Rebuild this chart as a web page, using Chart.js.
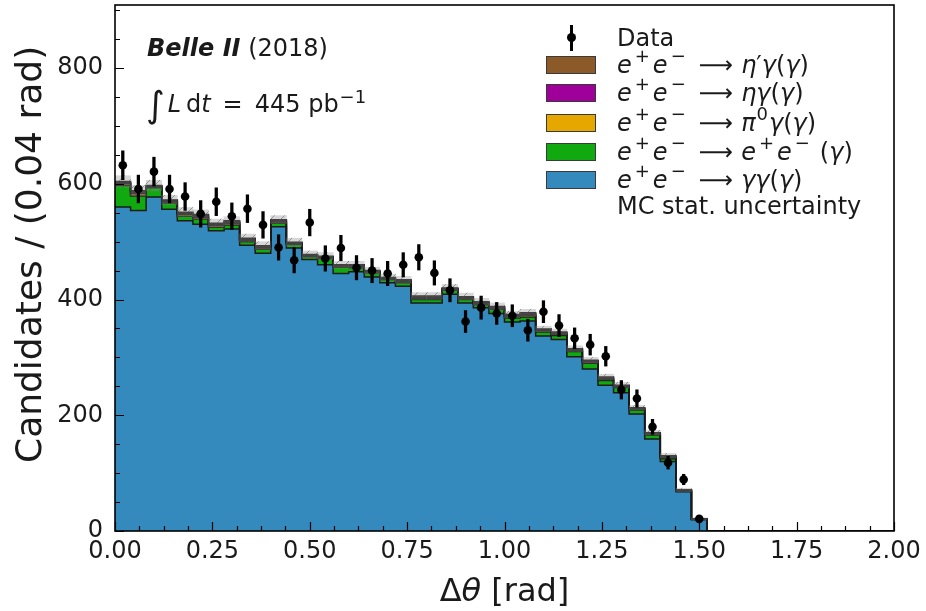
<!DOCTYPE html>
<html lang="en">
<head>
<meta charset="UTF-8">
<title>Delta theta - Belle II (2018)</title>
<script src="https://cdn.jsdelivr.net/npm/chart.js"></script>
<style>
    html, body { margin: 0; padding: 0; background: #fff; }
    body { font-family: 'DejaVu Sans', sans-serif; color: #1a1a1a; }
    #wrap { position: relative; width: 926px; height: 611px; }
    #wrap canvas { position: absolute; left: 0; top: 0; }
    .txt { position: absolute; font-size: 24px; line-height: 1; white-space: nowrap; }
    .row { position: absolute; left: 546px; height: 28px; display: flex; align-items: center;
           font-size: 24px; line-height: 1; white-space: nowrap; }
    .swatch { width: 48px; height: 16px; border: 1px solid #3a3a3a; margin-right: 21px; box-sizing: content-box; }
    .marker { position: relative; width: 50px; height: 28px; margin-right: 21px; }
    .marker .bar { position: absolute; left: 24px; top: 1px; width: 3px; height: 26px; background: #000; }
    .marker .dot { position: absolute; left: 21px; top: 9px; width: 9px; height: 9px; border-radius: 50%; background: #000; }
    sup { font-size: 0.75em; vertical-align: 0; position: relative; top: -0.5em; margin: 0 3px 0 3px; }
    .arrow { margin: 0 8px 0 10px; }
    .eq { margin: 0 12px; }
    #ytitle { position: absolute; font-size: 36px; line-height: 1; white-space: nowrap;
              transform-origin: 0 0; transform: rotate(-90deg); }
</style>
</head>
<body>
<div id="wrap">
    <canvas id="chart" width="926" height="611"></canvas>

    <!-- annotation -->
    <div class="txt" style="left:147px; top:36px;"><b><i>Belle II</i></b> (2018)</div>
    <div class="txt" style="left:146px; top:82px;"><span style="font-size:36px; position:relative; top:5px; margin-right:3px;">∫</span><i>L</i>&#8201;d<i>t</i><span class="eq">=</span>445 pb<sup style="margin:0 0 0 1px">−1</sup></div>

    <!-- legend -->
    <div class="row" style="top:24px;"><div class="marker"><div class="bar"></div><div class="dot"></div></div>Data</div>
    <div class="row" style="top:51px;"><div class="swatch" style="background:#8C5A28"></div><i>e</i><sup>+</sup><i>e</i><sup>−</sup><span class="arrow">⟶</span><i>η</i>′<i>γ</i>(<i>γ</i>)</div>
    <div class="row" style="top:79px;"><div class="swatch" style="background:#A0009A"></div><i>e</i><sup>+</sup><i>e</i><sup>−</sup><span class="arrow">⟶</span><i>ηγ</i>(<i>γ</i>)</div>
    <div class="row" style="top:109px;"><div class="swatch" style="background:#E6A800"></div><i>e</i><sup>+</sup><i>e</i><sup>−</sup><span class="arrow">⟶</span><i>π</i><sup style="margin:0 1px">0</sup><i>γ</i>(<i>γ</i>)</div>
    <div class="row" style="top:138px;"><div class="swatch" style="background:#10AA10"></div><i>e</i><sup>+</sup><i>e</i><sup>−</sup><span class="arrow">⟶</span><i>e</i><sup>+</sup><i>e</i><sup style="margin:0 10px 0 3px">−</sup>(<i>γ</i>)</div>
    <div class="row" style="top:166px;"><div class="swatch" style="background:#348ABD"></div><i>e</i><sup>+</sup><i>e</i><sup>−</sup><span class="arrow">⟶</span><i>γγ</i>(<i>γ</i>)</div>
    <div class="row" style="top:192px; left:617px;">MC stat. uncertainty</div>

    <!-- axis titles -->
    <div class="txt" style="left:0; width:1009px; text-align:center; top:574px; font-size:32px;">Δ<i>θ</i> [rad]</div>
    <div id="ytitle" style="left:11px; top:463px;">Candidates / (0.04 rad)</div>
</div>

<script>
    // 50 bins of 0.04 rad between 0 and 2 rad
    const binWidth = 0.04;
    const nBins = 50;

    // MC stacks, candidates per bin
    const ggMC   = [560, 554, 577, 556, 536, 530, 519, 522, 494, 480, 526, 489, 469, 460, 445, 448, 439, 429, 423, 394,
                    394, 409, 394, 386, 376, 361, 363, 337, 331, 301, 280, 252, 239, 202, 159, 120, 68, 20, 0, 0,
                    0, 0, 0, 0, 0, 0, 0, 0, 0, 0];
    const eeMC   = [37, 25, 16, 11, 8, 9, 6, 7, 6, 7, 6, 6, 5, 11, 11, 7, 7, 5, 6, 6,
                    6, 7, 6, 5, 7, 7, 7, 7, 7, 9, 10, 8, 9, 7, 7, 5, 1, 0, 0, 0,
                    0, 0, 0, 0, 0, 0, 0, 0, 0, 0];
    const pi0MC  = [3, 4, 2, 2, 3, 3, 3, 3, 2, 2, 2, 2, 2, 2, 2, 2, 2, 2, 2, 2,
                    2, 2, 2, 2, 2, 2, 3, 2, 2, 2, 2, 2, 2, 2, 2, 2, 1, 0, 0, 0,
                    0, 0, 0, 0, 0, 0, 0, 0, 0, 0];
    const etaMC  = [2, 3, 1, 2, 2, 3, 2, 2, 2, 2, 2, 1, 1, 1, 1, 2, 1, 1, 2, 2,
                    2, 1, 2, 2, 2, 2, 2, 2, 2, 2, 2, 2, 1, 1, 1, 2, 1, 1, 0, 0,
                    0, 0, 0, 0, 0, 0, 0, 0, 0, 0];
    const etapMC = [2, 2, 1, 1, 2, 2, 2, 2, 2, 2, 2, 1, 1, 1, 1, 1, 1, 1, 1, 2,
                    2, 1, 1, 1, 1, 2, 2, 1, 2, 1, 1, 2, 1, 1, 1, 1, 0, 0, 0, 0,
                    0, 0, 0, 0, 0, 0, 0, 0, 0, 0];
    const mcUnc  = [10, 9, 9, 8, 8, 8, 7, 7, 7, 7, 7, 7, 6, 6, 6, 6, 6, 6, 6, 6,
                    6, 6, 6, 6, 6, 6, 6, 5, 5, 5, 5, 5, 5, 4, 4, 4, 3, 2, 0, 0,
                    0, 0, 0, 0, 0, 0, 0, 0, 0, 0];

    // data (first 38 bins, the rest are empty)
    const dataCounts = [632, 591, 621, 591, 578, 548, 569, 544, 557, 529, 490, 468, 533, 471, 489, 455, 450, 445, 460, 473,
                        446, 416, 362, 386, 376, 372, 347, 379, 355, 333, 322, 302, 244, 229, 180, 118, 89, 21];
    const dataErr    = [25, 24, 25, 24, 24, 23, 24, 23, 24, 23, 22, 22, 23, 22, 22, 21, 21, 21, 21, 22,
                        21, 20, 19, 20, 19, 19, 19, 19, 19, 18, 18, 17, 16, 15, 13, 11, 9, 5];

    const xTicks = [0, 0.25, 0.5, 0.75, 1.0, 1.25, 1.5, 1.75, 2.0];
    const yTicks = [0, 200, 400, 600, 800];

    const edges = Array.from({length: nBins + 1}, (_, i) => +(i * binWidth).toFixed(2));
    const centers = edges.slice(0, nBins).map(e => e + binWidth / 2);

    function stepPoints(vals) {
        const pts = vals.map((v, i) => ({x: edges[i], y: v}));
        pts.push({x: edges[nBins], y: vals[nBins - 1]});
        return pts;
    }

    function hatch() {
        const c = document.createElement('canvas');
        c.width = 10; c.height = 10;
        const g = c.getContext('2d');
        g.fillStyle = 'rgba(140,140,140,0.35)';
        g.fillRect(0, 0, 10, 10);
        g.strokeStyle = 'rgba(80,80,80,0.5)';
        g.lineWidth = 1;
        g.beginPath();
        g.moveTo(0, 10); g.lineTo(10, 0);
        g.moveTo(-2, 2); g.lineTo(2, -2);
        g.moveTo(8, 12); g.lineTo(12, 8);
        g.stroke();
        return g.createPattern(c, 'repeat');
    }

    const layers = [
        {vals: ggMC,   color: '#348ABD'},
        {vals: eeMC,   color: '#10AA10'},
        {vals: pi0MC,  color: '#E6A800'},
        {vals: etaMC,  color: '#A0009A'},
        {vals: etapMC, color: '#8C5A28'}
    ];

    let running = new Array(nBins).fill(0);
    const stackSets = layers.map((l, k) => {
        running = running.map((r, i) => r + l.vals[i]);
        return {
            type: 'line',
            data: stepPoints(running),
            stepped: true,
            fill: k === 0 ? 'origin' : '-1',
            backgroundColor: l.color,
            borderColor: '#1a1a1a',
            borderWidth: 1.5,
            pointRadius: 0,
            order: 10 + k
        };
    });
    const totalMC = running;

    const bandData = [];
    const errData = [];
    const pointData = [];
    totalMC.forEach((t, i) => {
        if (t > 0) bandData.push({x: centers[i], y: [t - mcUnc[i], t + mcUnc[i]]});
    });
    dataCounts.forEach((d, i) => {
        errData.push({x: centers[i], y: [d - dataErr[i], d + dataErr[i]]});
        pointData.push({x: centers[i], y: d});
    });

    // frame and inward ticks, matplotlib style
    const framePlugin = {
        id: 'frame',
        afterDraw(chart) {
            const {ctx, chartArea: a, scales: {x, y}} = chart;
            ctx.save();
            ctx.strokeStyle = '#000';
            ctx.lineWidth = 1.2;
            ctx.beginPath();
            for (let v = 0; v <= 2.0001; v += 0.0625) {
                const px = Math.round(x.getPixelForValue(v)) + 0.5;
                const major = Math.abs(v / 0.25 - Math.round(v / 0.25)) < 1e-6;
                ctx.moveTo(px, a.bottom);
                ctx.lineTo(px, a.bottom - (major ? 9 : 5));
            }
            for (let v = 0; v <= 900; v += 50) {
                const py = Math.round(y.getPixelForValue(v)) + 0.5;
                ctx.moveTo(a.left, py);
                ctx.lineTo(a.left + (v % 200 === 0 ? 9 : 5), py);
            }
            ctx.stroke();
            ctx.lineWidth = 1.6;
            ctx.strokeRect(a.left, a.top, a.right - a.left, a.bottom - a.top);
            ctx.restore();
        }
    };

    const tickFont = {family: 'DejaVu Sans', size: 24};

    new Chart(document.getElementById('chart'), {
        type: 'line',
        data: {
            datasets: [
                ...stackSets,
                {
                    type: 'bar',
                    data: bandData,
                    backgroundColor: hatch(),
                    borderWidth: 0,
                    grouped: false,
                    categoryPercentage: 1,
                    barPercentage: 1,
                    order: 3
                },
                {
                    type: 'bar',
                    data: errData,
                    backgroundColor: '#000',
                    borderWidth: 0,
                    grouped: false,
                    barThickness: 2.6,
                    order: 2
                },
                {
                    type: 'line',
                    data: pointData,
                    showLine: false,
                    pointRadius: 4.3,
                    pointBackgroundColor: '#000',
                    pointBorderWidth: 0,
                    order: 1
                }
            ]
        },
        options: {
            responsive: false,
            animation: false,
            events: [],
            layout: {padding: {top: 5, right: 32, left: 0, bottom: 0}},
            plugins: {
                legend: {display: false},
                tooltip: {enabled: false},
                filler: {drawTime: 'beforeDatasetsDraw'}
            },
            scales: {
                x: {
                    type: 'linear',
                    min: 0,
                    max: 2,
                    offset: false,
                    grid: {display: false, drawTicks: false},
                    border: {display: false},
                    afterBuildTicks: s => { s.ticks = xTicks.map(v => ({value: v})); },
                    afterFit: s => { s.height = 80; s.paddingLeft = 0; s.paddingRight = 0; },
                    ticks: {
                        callback: v => v.toFixed(2),
                        font: tickFont,
                        color: '#1a1a1a',
                        padding: 6,
                        maxRotation: 0,
                        autoSkip: false
                    }
                },
                y: {
                    type: 'linear',
                    min: 0,
                    max: 909,
                    grid: {display: false, drawTicks: false},
                    border: {display: false},
                    afterBuildTicks: s => { s.ticks = yTicks.map(v => ({value: v})); },
                    afterFit: s => { s.width = 115; s.paddingTop = 0; s.paddingBottom = 0; },
                    ticks: {font: tickFont, color: '#1a1a1a', padding: 12}
                }
            }
        },
        plugins: [framePlugin]
    });
</script>
</body>
</html>
